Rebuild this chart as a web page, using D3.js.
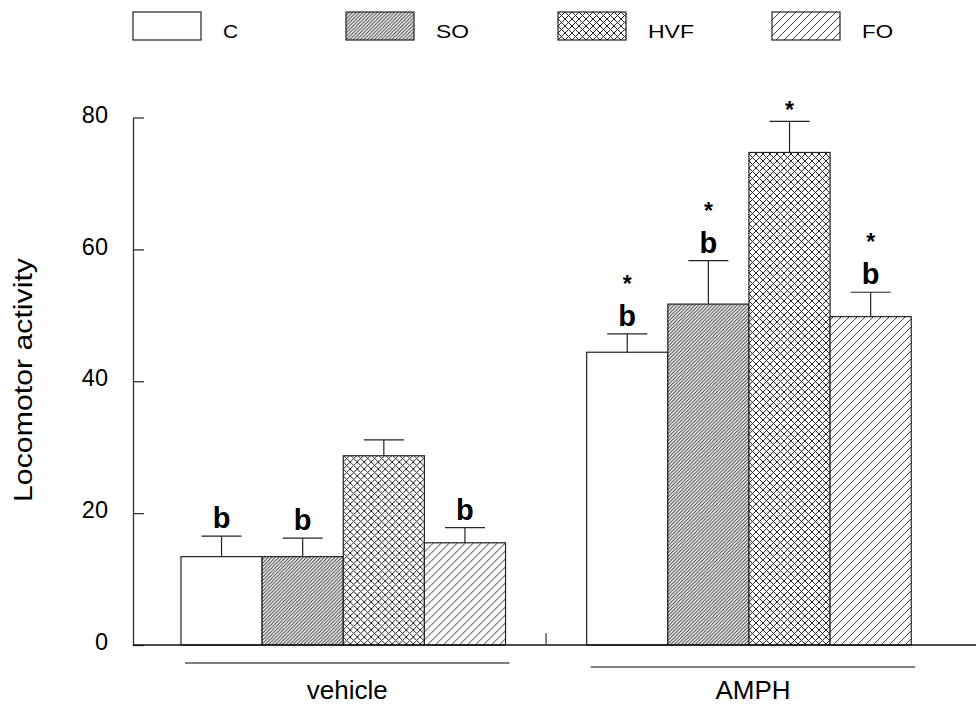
<!DOCTYPE html>
<html>
<head>
<meta charset="utf-8">
<script src="https://cdn.jsdelivr.net/npm/d3@7"></script>
<style>
  body { margin: 0; background: #fff; }
  text { font-family: "Liberation Sans", Arial, sans-serif; fill: #000; }
</style>
</head>
<body>
<svg id="chart" width="976" height="711"></svg>
<script>
// chart data
const groups = ["vehicle", "AMPH"];
const series = ["C", "SO", "HVF", "FO"];
const vehicleMeans = [13.4, 13.4, 28.7, 15.5];
const vehicleErrors = [3.1, 2.8, 2.4, 2.3];
const amphMeans = [44.4, 51.7, 74.7, 49.8];
const amphErrors = [2.8, 6.6, 4.7, 3.7];
const vehicleLetters = ["b", "b", "", "b"];
const amphLetters = ["b", "b", "", "b"];
const vehicleStars = ["", "", "", ""];
const amphStars = ["*", "*", "*", "*"];
const yTicks = [0, 20, 40, 60, 80];

const rows = [];
groups.forEach((g, gi) => {
  series.forEach((s, si) => {
    rows.push({
      group: g, series: s,
      mean: gi === 0 ? vehicleMeans[si] : amphMeans[si],
      err: gi === 0 ? vehicleErrors[si] : amphErrors[si],
      letter: gi === 0 ? vehicleLetters[si] : amphLetters[si],
      star: gi === 0 ? vehicleStars[si] : amphStars[si]
    });
  });
});

const svg = d3.select('#chart');
const axisX = 133;

// scales
const x0 = d3.scaleBand().domain(groups).range([140.4, 951.8]).paddingInner(0.2).paddingOuter(0.1);
const x1 = d3.scaleBand().domain(series).range([0, x0.bandwidth()]);
const y = d3.scaleLinear().domain([0, 80]).range([645, 117.5]);

// hatch patterns
const defs = svg.append('defs');
function hatch(id, s, cross, w) {
  const p = defs.append('pattern').attr('id', id)
    .attr('patternUnits', 'userSpaceOnUse').attr('width', s).attr('height', s);
  p.append('rect').attr('width', s).attr('height', s).attr('fill', '#fff');
  p.append('path')
    .attr('d', `M-1,1 l2,-2 M0,${s} l${s},${-s} M${s - 1},${s + 1} l2,-2`)
    .attr('stroke', '#222').attr('stroke-width', w);
  if (cross) {
    p.append('path')
      .attr('d', `M-1,${s - 1} l2,2 M0,0 l${s},${s} M${s - 1},-1 l2,2`)
      .attr('stroke', '#222').attr('stroke-width', w);
  }
}
hatch('pSO', 3.5, false, 0.9);
hatch('pHVF', 7, true, 1);
hatch('pFO', 8, false, 0.9);
const fills = { C: '#fff', SO: 'url(#pSO)', HVF: 'url(#pHVF)', FO: 'url(#pFO)' };

// y axis
const yAxis = d3.axisLeft(y).tickValues(yTicks).tickSizeInner(-11).tickSizeOuter(0).tickPadding(25);
const ya = svg.append('g').attr('transform', `translate(${axisX},0)`).call(yAxis);
ya.select('.domain').attr('stroke', '#333').attr('stroke-width', 1.3);
ya.selectAll('.tick line').attr('stroke', '#333').attr('stroke-width', 1.3);
ya.selectAll('.tick text').attr('font-size', 23.5).attr('dy', '0.2em')
  .style('font-family', '"Liberation Sans", Arial, sans-serif');

// bars
const bars = svg.append('g').selectAll('g').data(rows).enter().append('g')
  .attr('transform', d => `translate(${x0(d.group) + x1(d.series)},0)`);

bars.append('rect')
  .attr('x', 0).attr('width', x1.bandwidth())
  .attr('y', d => y(d.mean)).attr('height', d => y(0) - y(d.mean))
  .attr('fill', d => fills[d.series])
  .attr('stroke', '#222').attr('stroke-width', 1.2);

// error bars
const cx = x1.bandwidth() / 2;
bars.append('line')
  .attr('x1', cx).attr('x2', cx)
  .attr('y1', d => y(d.mean)).attr('y2', d => y(d.mean + d.err))
  .attr('stroke', '#222').attr('stroke-width', 1.2);
bars.append('line')
  .attr('x1', cx - 20).attr('x2', cx + 20)
  .attr('y1', d => y(d.mean + d.err)).attr('y2', d => y(d.mean + d.err))
  .attr('stroke', '#222').attr('stroke-width', 1.2);

// letters and stars
bars.filter(d => d.letter).append('text')
  .attr('x', cx).attr('y', d => y(d.mean + d.err) - 8)
  .attr('text-anchor', 'middle').attr('font-size', 29).attr('font-weight', 'bold')
  .text(d => d.letter);
// star centre sits ~47px above the letter baseline, or 16px above the cap
bars.filter(d => d.star).append('text')
  .attr('x', cx)
  .attr('y', d => (d.letter ? y(d.mean + d.err) - 8 - 47 : y(d.mean + d.err) - 16) + 13)
  .attr('text-anchor', 'middle').attr('font-size', 23).attr('font-weight', 'bold')
  .text(d => d.star);

// x baseline and divider tick
svg.append('line').attr('x1', axisX).attr('x2', 976).attr('y1', y(0)).attr('y2', y(0))
  .attr('stroke', '#111').attr('stroke-width', 1.5);
const midX = (x0(groups[0]) + x0.bandwidth() + x0(groups[1])) / 2;
svg.append('line').attr('x1', midX).attr('x2', midX).attr('y1', y(0) - 12).attr('y2', y(0))
  .attr('stroke', '#444').attr('stroke-width', 1.3);

// group underlines and labels
const underY = { vehicle: 663, AMPH: 667 };
groups.forEach(g => {
  svg.append('line')
    .attr('x1', x0(g) + 4).attr('x2', x0(g) + x0.bandwidth() + 4)
    .attr('y1', underY[g]).attr('y2', underY[g])
    .attr('stroke', '#555').attr('stroke-width', 1.4);
  svg.append('text')
    .attr('x', x0(g) + x0.bandwidth() / 2 + 4).attr('y', 699)
    .attr('text-anchor', 'middle').attr('font-size', 26)
    .text(g);
});

// y label
svg.append('text')
  .attr('transform', 'translate(31.5,380) rotate(-90)')
  .attr('text-anchor', 'middle').attr('font-size', 26)
  .attr('textLength', 244).attr('lengthAdjust', 'spacingAndGlyphs')
  .text('Locomotor activity');

// legend
const legendX = [133, 346, 558, 772];
const legendTextLen = [15, 33, 46, 31];
const legend = svg.append('g').selectAll('g').data(series).enter().append('g')
  .attr('transform', (d, i) => `translate(${legendX[i]},12)`);
legend.append('rect').attr('width', 68).attr('height', 28)
  .attr('fill', d => fills[d]).attr('stroke', '#222').attr('stroke-width', 1.2);
legend.append('text').attr('x', 90).attr('y', 25.5)
  .attr('font-size', 17.5)
  .attr('textLength', (d, i) => legendTextLen[i]).attr('lengthAdjust', 'spacingAndGlyphs')
  .text(d => d);
</script>
</body>
</html>
